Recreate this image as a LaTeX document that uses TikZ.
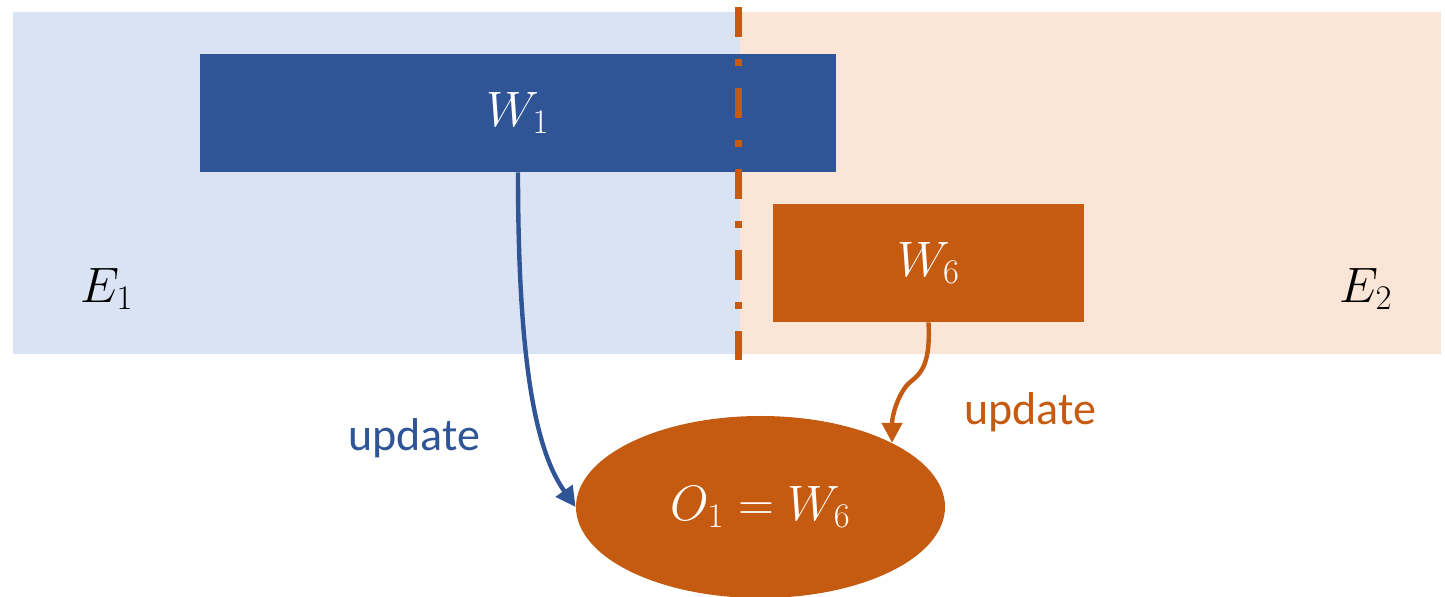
\documentclass[tikz,border=0pt]{standalone}
\usepackage{amsmath}
\usepackage{fontspec}
\setsansfont{Carlito}
\usetikzlibrary{arrows.meta, shapes.geometric}
\definecolor{wblue}{HTML}{2F5597}
\definecolor{worange}{HTML}{C55A11}
\definecolor{eblue}{HTML}{DAE3F3}
\definecolor{eorange}{HTML}{FBE5D6}

\begin{document}
\begin{tikzpicture}[x=0.5pt, y=-0.5pt, font=\fontsize{23}{28}\selectfont,
  wbox/.style={inner sep=0pt, minimum height=59pt, text=white},
  upd/.style={font=\sffamily\fontsize{23}{28}\selectfont, inner sep=0pt},
  arr/.style={-{Triangle[length=10pt, width=10pt]}, line width=2.2pt}]
\useasboundingbox (0,0) rectangle (1445,597);
% environments
\fill[eblue] (13,12) rectangle (740,354);
\fill[eorange] (740,12) rectangle (1441,354);
\node (e1) at (107,289) {$E_1$};
\node (e2) at (1366,289) {$E_2$};
% weights
\node[wbox, fill=wblue, minimum width=318pt] (w1) at (518,113) {$W_1$};
\node[wbox, fill=worange, minimum width=155.5pt] (w6) at (928.5,263) {$W_6$};
% split line
\draw[worange, line width=3.5pt, dash pattern=on 15pt off 11pt on 3.5pt off 11pt] (738,7) -- (738,360);
% output
\node[ellipse, fill=worange, text=white, minimum width=184.5pt, minimum height=91pt, inner sep=0pt] (o1) at (760.5,507) {$O_1 = W_6$};
\draw[arr, wblue] (w1.south) .. controls (518,360) and (535,450) .. (o1.west);
\draw[arr, worange] (w6.south) .. controls (931,370) and (918,375) .. (908,384) .. controls (898,395) and (892,415) .. (o1.26);
\node[upd, text=wblue] (u1) at (414,438) {update};
\node[upd, text=worange] (u2) at (1030,412) {update};
\end{tikzpicture}
\end{document}
